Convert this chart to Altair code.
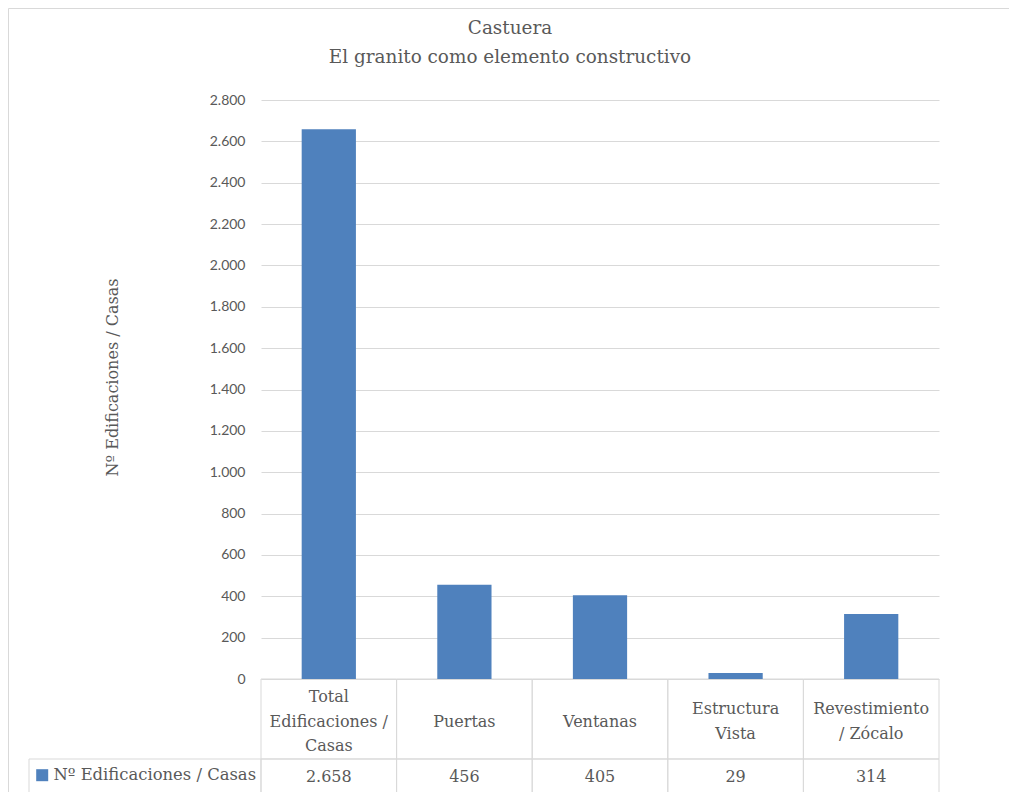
import altair as alt
import pandas as pd

# ---- data ----
categories = ["Total Edificaciones / Casas", "Puertas", "Ventanas",
              "Estructura Vista", "Revestimiento / Zócalo"]
header_labels = ["Total\nEdificaciones /\nCasas", "Puertas", "Ventanas",
                 "Estructura\nVista", "Revestimiento\n/ Zócalo"]
values = [2658, 456, 405, 29, 314]
series_name = "Nº Edificaciones /  Casas"
y_ticks = list(range(0, 2801, 200))
title_lines = ["Castuera", "El granito como elemento constructivo"]
y_title = "Nº Edificaciones / Casas"

# ---- styling ----
SERIF = "DejaVu Serif"
SANS = "Lato"
TXT = "#595959"
GRID = "#D9D9D9"
BAR = "#4F81BD"

W, H = 678, 579
LH = 24.5

df = pd.DataFrame({"cat": categories, "header": header_labels,
                   "value": values, "series": [series_name] * len(values)})
one = pd.DataFrame({"k": [0]})
titles = pd.DataFrame({"line": title_lines, "i": list(range(len(title_lines)))})

xenc = alt.X("cat:N", sort=categories, axis=None,
             scale=alt.Scale(paddingInner=0, paddingOuter=0))

bars = alt.Chart(df).mark_bar(width={"band": 0.4}).encode(
    x=xenc,
    y=alt.Y("value:Q",
            scale=alt.Scale(domain=[0, 2800], nice=False),
            axis=alt.Axis(values=y_ticks,
                          labelExpr="replace(format(datum.value, ','), ',', '.')",
                          grid=True, gridColor=GRID, gridWidth=1,
                          ticks=False, domain=False,
                          labelFont=SANS, labelFontSize=14, labelColor=TXT,
                          labelPadding=16,
                          title=y_title, titleFont=SERIF, titleFontSize=16,
                          titleFontWeight="normal", titleColor=TXT,
                          titleX=-149, titleY=277, titleAngle=270,
                          titleAlign="center", titleBaseline="middle")),
    color=alt.Color("series:N",
                    scale=alt.Scale(range=[BAR]),
                    legend=alt.Legend(orient="none", legendX=-227, legendY=667,
                                      title=None, padding=0,
                                      symbolType="square", symbolSize=144,
                                      symbolStrokeWidth=0, symbolOpacity=1,
                                      labelFont=SERIF, labelFontSize=16.4,
                                      labelColor=TXT, labelLimit=0,
                                      labelOffset=3)),
)

header_cells = alt.Chart(df).mark_rect(fillOpacity=0, stroke=GRID, strokeWidth=1).encode(
    x=xenc, y=alt.value(H), y2=alt.value(H + 80))
data_cells = alt.Chart(df).mark_rect(fillOpacity=0, stroke=GRID, strokeWidth=1).encode(
    x=xenc, y=alt.value(H + 80), y2=alt.value(H + 114))


def header_layer(n):
    return alt.Chart(df).transform_calculate(
        n="length(split(datum.header, '\\n'))"
    ).transform_filter(f"datum.n == {n}").mark_text(
        font=SERIF, fontSize=16, color=TXT, lineBreak="\n", lineHeight=LH,
        baseline="middle", align="center").encode(
        x=xenc, y=alt.value(H + 42.5 - (n - 1) * LH / 2), text="header:N")


value_text = alt.Chart(df).transform_calculate(
    label="replace(format(datum.value, ','), ',', '.')"
).mark_text(font=SERIF, fontSize=16, color=TXT, baseline="middle",
            align="center").encode(
    x=xenc, y=alt.value(H + 97.5), text="label:N")

left_cell = alt.Chart(one).mark_rect(fillOpacity=0, stroke=GRID, strokeWidth=1).encode(
    x=alt.value(-232), x2=alt.value(0), y=alt.value(H + 80), y2=alt.value(H + 114))

border_top = alt.Chart(one).mark_rule(color=GRID, strokeWidth=1).encode(
    x=alt.value(-252.5), x2=alt.value(W + 80), y=alt.value(-91.5))
border_left = alt.Chart(one).mark_rule(color=GRID, strokeWidth=1).encode(
    x=alt.value(-252.5), y=alt.value(-91.5), y2=alt.value(H + 120))

title_text = alt.Chart(titles).transform_calculate(
    ypix="datum.i * 29 - 66"
).mark_text(font=SERIF, fontSize=18.4, color=TXT, baseline="alphabetic",
            align="center").encode(
    x=alt.value(249),
    y=alt.Y("ypix:Q", scale=None),
    text="line:N")

chart = alt.layer(
    border_top, border_left, header_cells, data_cells, left_cell,
    bars, header_layer(1), header_layer(2), header_layer(3), value_text,
    title_text
).properties(
    width=W, height=H,
    background="white",
    autosize=alt.AutoSizeParams(type="none"),
    padding={"left": 253, "top": 92, "right": 70, "bottom": 113},
).configure_view(stroke=None)

chart.save("out.html", embed_options={"renderer": "svg", "actions": False})
